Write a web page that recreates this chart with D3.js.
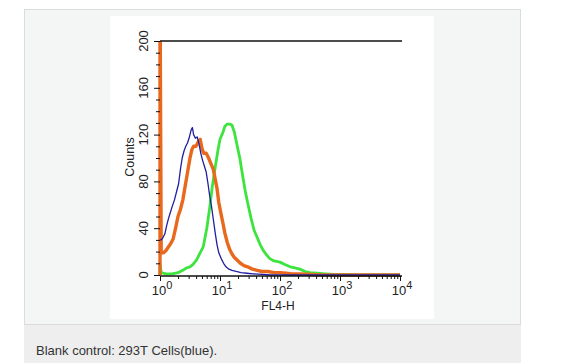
<!DOCTYPE html>
<html><head><meta charset="utf-8">
<script src="https://cdn.jsdelivr.net/npm/d3@7"></script>
<style>html,body{margin:0;padding:0;background:#fff;}svg{display:block;}</style>
</head><body>
<svg id="c" width="566" height="363"></svg>
<script>
// Data: x positions in decades (log10 of FL4-H), y in counts
const blueDec = [0.00,0.02,0.05,0.08,0.11,0.14,0.17,0.20,0.24,0.28,0.31,0.34,0.37,0.40,0.43,0.46,0.49,0.52,0.54,0.56,0.59,0.62,0.65,0.68,0.71,0.74,0.77,0.80,0.83,0.86,0.89,0.92,0.95,0.98,1.02,1.06,1.10,1.15,1.20,1.27,1.35,1.45,1.55,1.70,1.85,4.0];
const blueCnt = [30,30,32,35,42,48,53,58,64,72,78,90,100,106,110,113,118,124,126,120,117,118,112,104,98,93,88,78,67,58,47,36,26,19,14,10,7,5,4,3,2,1.5,1,0.5,0,0];
const orangeDec = [0.00,0.00,0.02,0.06,0.10,0.14,0.18,0.22,0.26,0.30,0.34,0.38,0.42,0.46,0.50,0.53,0.56,0.60,0.64,0.67,0.70,0.73,0.77,0.81,0.85,0.89,0.92,0.95,0.98,1.01,1.05,1.08,1.12,1.16,1.20,1.24,1.28,1.34,1.40,1.46,1.54,1.62,1.70,1.80,1.90,2.00,2.10,2.20,2.35,2.50,2.70,4.0];
const orangeCnt = [0,250,19,19,21,24,27,31,40,50,56,64,76,88,100,107,110,110,114,116,108,104,104,100,95,90,82,74,62,54,44,36,28,22,18,15,13,10,8,7,5,4,3,3,2,2,1.5,1,1,0.5,0,0];
const greenDec = [0.00,0.00,0.02,0.10,0.20,0.30,0.38,0.44,0.50,0.55,0.61,0.66,0.72,0.78,0.83,0.87,0.92,0.97,1.00,1.05,1.08,1.12,1.17,1.20,1.24,1.28,1.33,1.38,1.42,1.46,1.52,1.57,1.62,1.67,1.72,1.78,1.83,1.90,2.00,2.08,2.17,2.25,2.33,2.42,2.50,2.62,2.75,2.90,3.10,3.30,4.0];
const greenCnt = [0,10,2,1,1,2,4,6,7,9,13,18,24,40,58,75,92,108,116,122,127,129,129,128,122,112,100,84,72,62,48,38,32,26,21,17,14,12,11,9,7,6,5,3,2,1.5,1,0.5,0.5,0,0];
const yTicks = [0,40,80,120,160,200];
const xTickExps = [0,1,2,3,4];
const xLabel = "FL4-H";
const yLabel = "Counts";
const caption = "Blank control: 293T Cells(blue).";

const svg = d3.select("#c");
const font = "'Liberation Sans', Arial, sans-serif";

// page panel
svg.append("rect").attr("x",24.5).attr("y",9.5).attr("width",496).attr("height",315).attr("fill","#f4f5f5").attr("stroke","#dcdcdc");
svg.append("rect").attr("x",24).attr("y",325).attr("width",497).attr("height",38).attr("fill","#edeeed");
svg.append("rect").attr("x",110).attr("y",16).attr("width",324).attr("height",303).attr("fill","#ffffff");
svg.append("text").attr("x",36).attr("y",355).attr("font-family",font).attr("font-size",13).attr("fill","#333").text(caption);

const x = d3.scaleLog().domain([1,10000]).range([160,400]);
const y = d3.scaleLinear().domain([0,200]).range([275,41]);

svg.append("defs").append("clipPath").attr("id","pc").append("rect").attr("x",150).attr("y",41).attr("width",255).attr("height",236);

const line = d3.line().x(d=>x(Math.pow(10,d[0]))).y(d=>y(d[1])).curve(d3.curveLinear);
const g = svg.append("g").attr("clip-path","url(#pc)");
function series(dec,cnt,color,w){
  g.append("path").datum(dec.map((d,i)=>[d,cnt[i]])).attr("d",line).attr("fill","none").attr("stroke",color).attr("stroke-width",w).attr("stroke-linejoin","round");
}
series(greenDec,greenCnt,"#3de43d",2.8);
series(orangeDec,orangeCnt,"#e8691e",3.4);
series(blueDec,blueCnt,"#1f1fa3",1.3);

// top line
svg.append("line").attr("x1",160).attr("x2",402).attr("y1",y(200)).attr("y2",y(200)).attr("stroke","#111").attr("stroke-width",1.3);

// y axis
const yAxis = d3.axisLeft(y).tickValues(d3.range(0,201,10)).tickSize(4).tickFormat(()=> "");
const ya = svg.append("g").attr("transform","translate(160,0)").call(yAxis);
ya.select(".domain").attr("stroke","none");
ya.selectAll(".tick line").attr("stroke","#111");
ya.selectAll(".tick").filter(d=>yTicks.includes(d)).select("line").attr("x2",-6);
yTicks.forEach(v=>{
  svg.append("text").attr("transform",`translate(148,${y(v)}) rotate(-90)`).attr("text-anchor","middle")
    .attr("font-family",font).attr("font-size",13).attr("fill","#222").text(v);
});
svg.append("text").attr("transform","translate(134,157) rotate(-90)").attr("text-anchor","middle")
  .attr("font-family",font).attr("font-size",12.5).attr("fill","#222").text(yLabel);

// x axis
const minor = [];
for(let e=0;e<4;e++) for(let m=1;m<10;m++) minor.push(m*Math.pow(10,e));
minor.push(10000);
const xAxis = d3.axisBottom(x).tickValues(minor).tickSize(3).tickFormat(()=> "");
const xa = svg.append("g").attr("transform","translate(0,276)").call(xAxis);
xa.select(".domain").attr("stroke","#111").attr("stroke-width",1.3).attr("d","M160,0H402");
xa.selectAll(".tick line").attr("stroke","#111");
xa.selectAll(".tick").filter(d=>Math.abs(Math.log10(d)-Math.round(Math.log10(d)))<1e-9).select("line").attr("y2",5);
xTickExps.forEach(e=>{
  const t = svg.append("text").attr("x",x(Math.pow(10,e))+2).attr("y",295).attr("text-anchor","middle")
    .attr("font-family",font).attr("font-size",13).attr("fill","#222");
  t.append("tspan").text("10");
  t.append("tspan").attr("dy",-6).attr("font-size",11).text(e);
});
svg.append("text").attr("x",278).attr("y",310).attr("text-anchor","middle")
  .attr("font-family",font).attr("font-size",12).attr("fill","#222").text(xLabel);
</script>
</body></html>
